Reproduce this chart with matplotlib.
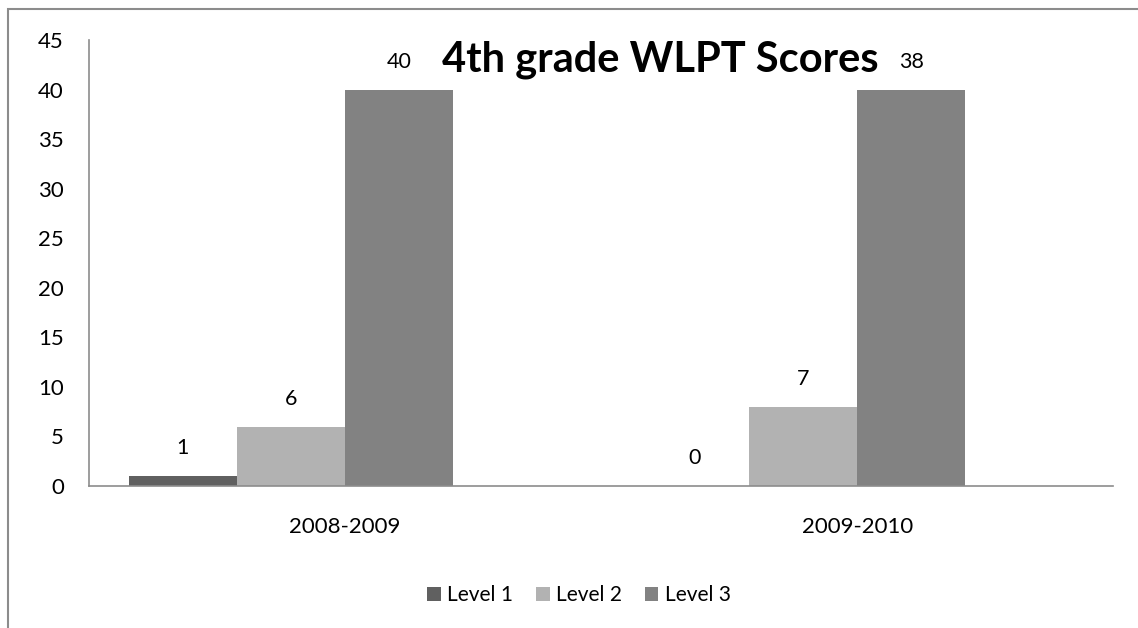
import matplotlib.pyplot as plt
import numpy as np
from matplotlib.patches import Rectangle

plt.rcParams["font.family"] = ["Lato", "DejaVu Sans"]

years = ["2008-2009", "2009-2010"]
levels = ["Level 1", "Level 2", "Level 3"]
# bar heights as drawn, and the data labels as printed on the chart
level1 = [1, 0]
level2 = [6, 8]
level3 = [40, 40]
level1_labels = ["1", "0"]
level2_labels = ["6", "7"]
level3_labels = ["40", "38"]
colors = ["#606060", "#b2b2b2", "#828282"]

fig = plt.figure(figsize=(11.38, 6.28), dpi=100)
ax = fig.add_axes([0.0782, 0.2261, 0.9, 0.7102])

# outer chart-area frame (cut off at right and bottom)
fig.patches.append(Rectangle((7.5 / 1138, -0.1), 1.2, 1.1 - 10 / 628 + 0.002,
                             transform=fig.transFigure, fill=False,
                             edgecolor="#8c8c8c", lw=1.5))

x = np.arange(len(years))
w = 0.211
series = [(level1, level1_labels), (level2, level2_labels), (level3, level3_labels)]
for i, (vals, labs) in enumerate(series):
    bars = ax.bar(x + (i - 1.5) * w, vals, w, color=colors[i], label=levels[i])
    for b, lab in zip(bars, labs):
        ax.annotate(lab, (b.get_x() + b.get_width() / 2, b.get_height()),
                    xytext=(0, 20), textcoords="offset points",
                    ha="center", va="center", fontsize=15.5)

ax.set_xlim(-0.5, 1.5)
ax.set_ylim(0, 45)
ax.set_yticks(range(0, 46, 5))
ax.set_xticks(x, years)
ax.tick_params(axis="both", length=0, labelsize=16)
ax.tick_params(axis="y", pad=18)
ax.tick_params(axis="x", pad=22)
for s in ["top", "right"]:
    ax.spines[s].set_visible(False)
for s in ["left", "bottom"]:
    ax.spines[s].set_color("#8c8c8c")
    ax.spines[s].set_linewidth(1.2)

fig.text(660 / 1138, 1 - 60 / 628, "4th grade WLPT Scores", ha="center", va="center",
         fontsize=30, fontweight="bold")

ax.legend(loc="center", bbox_to_anchor=(579 / 1138, 1 - 595 / 628), bbox_transform=fig.transFigure,
          ncol=3, frameon=False, fontsize=15, handlelength=0.65, handleheight=0.65,
          handletextpad=0.3, columnspacing=1.1)

fig.savefig("out.png", dpi=100)
